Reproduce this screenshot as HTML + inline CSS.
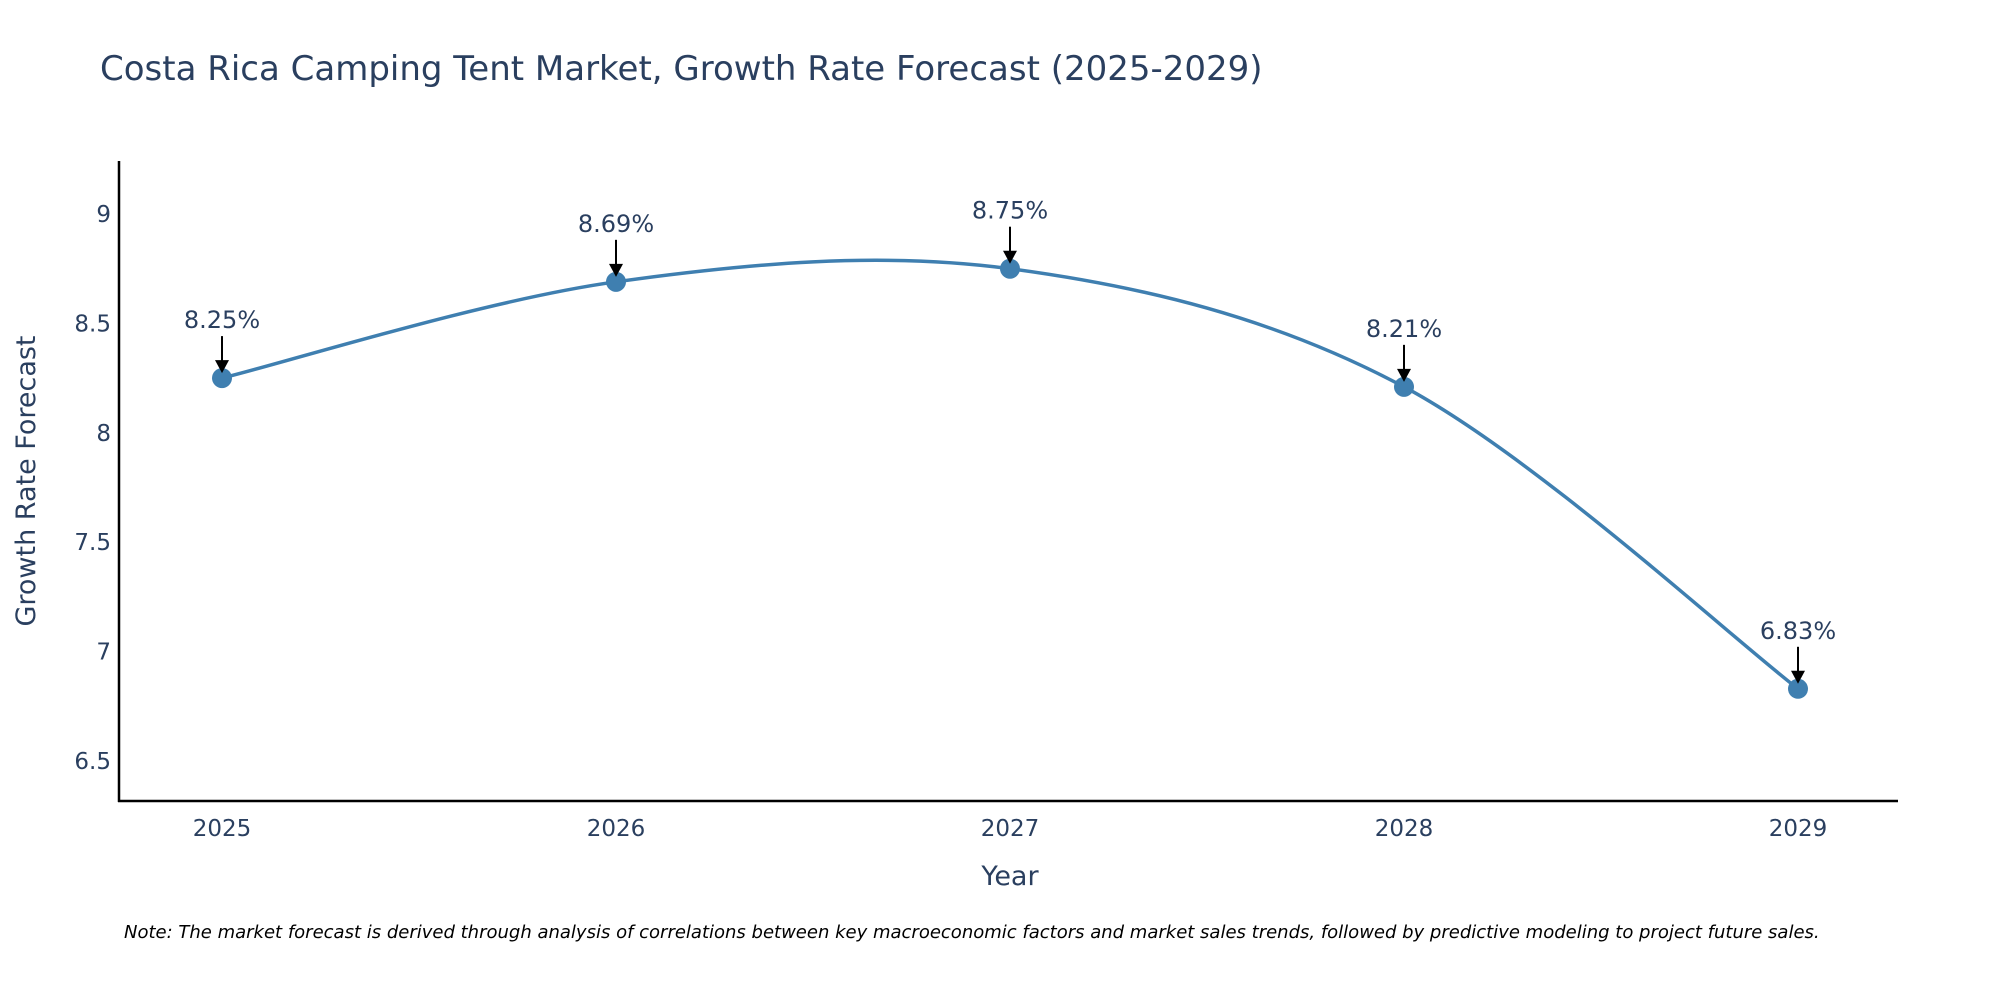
<!DOCTYPE html>
<html><head><meta charset="utf-8"><style>
body{margin:0;background:#fff;}
svg{display:block;font-family:"DejaVu Sans","Liberation Sans",sans-serif;}
</style></head><body>
<svg id="chart" width="2000" height="1000" viewBox="0 0 2000 1000">
<text x="100" y="80" font-size="34" fill="#2a3f5f">Costa Rica Camping Tent Market, Growth Rate Forecast (2025-2029)</text>
<g id="yticks"></g>
<g id="xticks"></g>
<line x1="119" y1="161" x2="119" y2="802" stroke="#000" stroke-width="2.5"/>
<line x1="118" y1="801" x2="1898" y2="801" stroke="#000" stroke-width="2.5"/>
<path id="line" fill="none" stroke="#3f7fb0" stroke-width="3.5"/>
<g id="marks"></g>
<text x="1010" y="885" font-size="27" fill="#2a3f5f" text-anchor="middle">Year</text>
<text transform="translate(35,481) rotate(-90)" font-size="27" fill="#2a3f5f" text-anchor="middle">Growth Rate Forecast</text>
<text x="124" y="938" font-size="18" font-style="italic" fill="#000">Note: The market forecast is derived through analysis of correlations between key macroeconomic factors and market sales trends, followed by predictive modeling to project future sales.</text>
</svg>
<script>
const years = ["2025","2026","2027","2028","2029"];
const values = [8.25, 8.69, 8.75, 8.21, 6.83];
const labels = ["8.25%","8.69%","8.75%","8.21%","6.83%"];
const yTicks = [6.5, 7, 7.5, 8, 8.5, 9];
const yTickLabels = ["6.5","7","7.5","8","8.5","9"];
const NS="http://www.w3.org/2000/svg";
const xScale=i=>222+i*(1798-222)/(years.length-1);
const yScale=v=>761-(v-6.5)*218.8;
function mk(tag,attrs,parent,text){const e=document.createElementNS(NS,tag);for(const k in attrs)e.setAttribute(k,attrs[k]);if(text!==undefined)e.textContent=text;parent.appendChild(e);return e;}
const yt=document.getElementById('yticks');
yTicks.forEach((t,i)=>{const e=mk('text',{x:111,y:yScale(t)+8,'font-size':23,fill:'#2a3f5f','text-anchor':'end'},yt,yTickLabels[i]);

});
const xt=document.getElementById('xticks');
years.forEach((y,i)=>{const e=mk('text',{x:xScale(i),y:836,'font-size':23,fill:'#2a3f5f','text-anchor':'middle'},xt,y);

});
const pts=values.map((v,i)=>[xScale(i),yScale(v)]);
let d=`M${pts[0][0]},${pts[0][1]}`;
for(let i=0;i<pts.length-1;i++){const p0=pts[Math.max(0,i-1)],p1=pts[i],p2=pts[i+1],p3=pts[Math.min(pts.length-1,i+2)];
const s=1/6;
const c1=[p1[0]+(p2[0]-p0[0])*s,p1[1]+(p2[1]-p0[1])*s];
const c2=[p2[0]-(p3[0]-p1[0])*s,p2[1]-(p3[1]-p1[1])*s];
d+=` C${c1[0]},${c1[1]} ${c2[0]},${c2[1]} ${p2[0]},${p2[1]}`;}
document.getElementById('line').setAttribute('d',d);
const mg=document.getElementById('marks');
pts.forEach((p,i)=>{
const c=mk('circle',{cx:p[0],cy:p[1],r:10,fill:'#3f7fb0'},mg);


const l=mk('line',{x1:p[0],y1:p[1]-42,x2:p[0],y2:p[1]-14,stroke:'#000','stroke-width':2},mg);


const h=mk('polygon',{points:`${p[0]-7},${p[1]-18} ${p[0]+7},${p[1]-18} ${p[0]},${p[1]-5}`,fill:'#000'},mg);


const t=mk('text',{x:p[0],y:p[1]-50,'font-size':24,fill:'#2a3f5f','text-anchor':'middle'},mg,labels[i]);


});
</script>
</body></html>
